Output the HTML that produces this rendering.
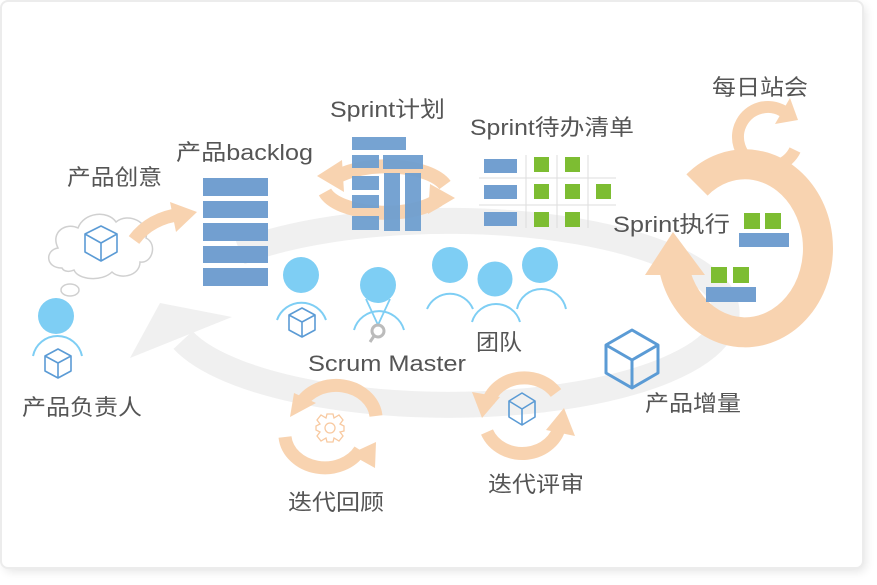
<!DOCTYPE html>
<html><head><meta charset="utf-8"><style>
html,body{margin:0;padding:0;background:#fff;width:877px;height:585px;overflow:hidden}
.card{position:absolute;left:2px;top:2px;width:860px;height:565px;background:#fff;border-radius:6px;box-shadow:0 0 0 2px #ececec,3px 4px 10px rgba(0,0,0,0.12)}
svg{position:absolute;left:0;top:0}
text{font-family:"Liberation Sans","Noto Sans CJK SC",sans-serif;font-size:22px;fill:#555}
</style></head><body>
<div class="card"></div>
<svg width="877" height="585" viewBox="0 0 877 585">
<!-- gray ring -->
<path d="M 240 252 A 278 92 0 1 1 183 340" fill="none" stroke="#f0f0f0" stroke-width="26"/>
<polygon points="130,358 160,303 232,317" fill="#f0f0f0"/>

<!-- cloud -->
<g fill="#fff" stroke="#d0d0d0" stroke-width="1.5">
<path d="M62 268 C45 268 45 250 58 248 C50 232 66 222 78 228 C84 212 108 210 116 222 C128 212 150 222 146 238 C158 244 152 264 140 262 C140 276 120 280 112 272 C102 282 78 280 74 270 C70 272 64 272 62 268 Z"/>
<ellipse cx="70" cy="290" rx="9" ry="6"/>
</g>
<g fill="none" stroke="#5b9bd5" stroke-width="1.6" stroke-linejoin="round">
<path d="M101 226 L117 234 L117 252 L101 261 L85 252 L85 234 Z M85 234 L101 243 L117 234 M101 243 L101 261"/>
</g>
<path d="M134 240 Q150 218 182 214" fill="none" stroke="#f8d3b0" stroke-width="13"/>
<polygon points="170,202 197,212 176,232" fill="#f8d3b0"/>

<!-- product owner -->
<circle cx="56" cy="316" r="18" fill="#7ecef4"/>
<path d="M33 356 A 25 25 0 0 1 82 356" fill="none" stroke="#7ecef4" stroke-width="2"/>
<g fill="none" stroke="#5b9bd5" stroke-width="1.6" stroke-linejoin="round">
<path d="M58 349 L71 356 L71 371 L58 378 L45 371 L45 356 Z M45 356 L58 363 L71 356 M58 363 L58 378"/>
</g>

<!-- backlog -->
<g fill="#729fd0">
<rect x="203" y="178" width="65" height="18"/>
<rect x="203" y="201" width="65" height="17"/>
<rect x="203" y="223" width="65" height="18"/>
<rect x="203" y="246" width="65" height="17"/>
<rect x="203" y="268" width="65" height="18"/>
</g>

<!-- sprint plan circular arrows -->
<path d="M 445 185 A 62 27 0 0 0 335 178" fill="none" stroke="#f8d3b0" stroke-width="14"/>
<polygon points="317,176 342,160 344,192" fill="#f8d3b0"/>
<path d="M 325 192 A 62 27 0 0 0 438 200" fill="none" stroke="#f8d3b0" stroke-width="14"/>
<polygon points="455,198 430,184 428,214" fill="#f8d3b0"/>
<g fill="#6f9fd0" opacity="0.95">
<rect x="352" y="137" width="54" height="13"/>
<rect x="352" y="155" width="27" height="13"/>
<rect x="383" y="155" width="40" height="14"/>
<rect x="352" y="176" width="27" height="14"/>
<rect x="352" y="195" width="27" height="13"/>
<rect x="352" y="216" width="27" height="14"/>
<rect x="384" y="173" width="16" height="58"/>
<rect x="405" y="173" width="16" height="58"/>
</g>

<!-- sprint backlog table -->
<g stroke="#ddd" stroke-width="1">
<line x1="526" y1="155" x2="526" y2="228"/><line x1="557" y1="155" x2="557" y2="228"/><line x1="588" y1="155" x2="588" y2="228"/>
<line x1="479" y1="178" x2="616" y2="178"/><line x1="479" y1="205" x2="616" y2="205"/>
</g>
<g fill="#729fd0"><rect x="484" y="159" width="33" height="14"/><rect x="484" y="185" width="33" height="14"/><rect x="484" y="212" width="33" height="14"/></g>
<g fill="#7dbd32">
<rect x="534" y="157" width="15" height="15"/><rect x="565" y="157" width="15" height="15"/>
<rect x="534" y="184" width="15" height="15"/><rect x="565" y="184" width="15" height="15"/><rect x="596" y="184" width="15" height="15"/>
<rect x="534" y="212" width="15" height="15"/><rect x="565" y="212" width="15" height="15"/>
</g>

<!-- sprint execution loop -->
<path d="M 697 185 A 73 84 0 1 1 674 268" fill="none" stroke="#f8d3b0" stroke-width="30"/>
<polygon points="673,232 645,275 705,275" fill="#f8d3b0"/>
<!-- daily standup loop -->
<path d="M 795 150 A 30 30 0 1 1 783 111" fill="none" stroke="#f8d3b0" stroke-width="12"/>
<polygon points="790,98 775,124 798,120" fill="#f8d3b0"/>
<g fill="#7dbd32"><rect x="744" y="213" width="16" height="16"/><rect x="765" y="213" width="16" height="16"/>
<rect x="711" y="267" width="16" height="16"/><rect x="733" y="267" width="16" height="16"/></g>
<g fill="#729fd0"><rect x="739" y="233" width="50" height="14"/><rect x="706" y="287" width="50" height="15"/></g>

<!-- team member -->
<circle cx="301" cy="275" r="18" fill="#7ecef4"/>
<path d="M277 320 A 26 26 0 0 1 326 320" fill="none" stroke="#7ecef4" stroke-width="2"/>
<g fill="none" stroke="#5b9bd5" stroke-width="1.6" stroke-linejoin="round">
<path d="M302 308 L315 315 L315 330 L302 337 L289 330 L289 315 Z M289 315 L302 322 L315 315 M302 322 L302 337"/>
</g>
<!-- scrum master -->
<circle cx="378" cy="285" r="18" fill="#7ecef4"/>
<path d="M354 330 A 26 26 0 0 1 404 330" fill="none" stroke="#7ecef4" stroke-width="2"/>
<path d="M366 299 L378 325 L390 299" fill="none" stroke="#7ecef4" stroke-width="1.8"/>
<circle cx="378" cy="331" r="6" fill="none" stroke="#bbb" stroke-width="3"/>
<line x1="374" y1="336" x2="370" y2="342" stroke="#bbb" stroke-width="3"/>
<!-- team -->
<circle cx="450" cy="265" r="18" fill="#7ecef4"/>
<circle cx="540" cy="265" r="18" fill="#7ecef4"/>
<path d="M427 309 A 25 25 0 0 1 473 309" fill="none" stroke="#7ecef4" stroke-width="2"/>
<path d="M517 309 A 25 25 0 0 1 566 309" fill="none" stroke="#7ecef4" stroke-width="2"/>
<circle cx="495" cy="279" r="18" fill="#7ecef4" stroke="#fff" stroke-width="1"/>
<path d="M472 322 A 25 25 0 0 1 520 322" fill="none" stroke="#7ecef4" stroke-width="2"/>

<!-- product increment cube -->
<g fill="none" stroke="#5b9bd5" stroke-width="3" stroke-linejoin="round">
<path d="M632 330 L658 345 L658 373 L632 388 L606 373 L606 345 Z M606 345 L632 360 L658 345 M632 360 L632 388"/>
</g>

<!-- review arrows -->
<path d="M 556 393 A 38 34 0 0 0 488 402" fill="none" stroke="#f8d3b0" stroke-width="13"/>
<polygon points="472,392 500,397 482,418" fill="#f8d3b0"/>
<path d="M 487 432 A 38 34 0 0 0 560 424" fill="none" stroke="#f8d3b0" stroke-width="13"/>
<polygon points="575,436 546,430 564,408" fill="#f8d3b0"/>
<g fill="none" stroke="#5b9bd5" stroke-width="1.6" stroke-linejoin="round">
<path d="M522 393 L535 401 L535 417 L522 425 L509 417 L509 401 Z M509 401 L522 409 L535 401 M522 409 L522 425"/>
</g>

<!-- retro arrows -->
<path d="M 376 416 A 40 34 0 0 0 300 405" fill="none" stroke="#f8d3b0" stroke-width="13"/>
<polygon points="290,417 294,393 316,403" fill="#f8d3b0"/>
<path d="M 285 437 A 40 34 0 0 0 360 450" fill="none" stroke="#f8d3b0" stroke-width="13"/>
<polygon points="376,442 375,468 350,454" fill="#f8d3b0"/>
<g fill="none" stroke="#f8c9a0" stroke-width="1.3">
<circle cx="330" cy="428" r="5"/>
<path d="M327 414 L333 414 L334 418 L339 415 L343 420 L340 424 L344 426 L344 431 L340 432 L343 436 L339 441 L334 438 L333 442 L327 442 L326 438 L321 441 L317 436 L320 432 L316 430 L316 426 L320 424 L317 420 L321 415 L326 418 Z"/>
</g>

<!-- labels -->
<text x="712" y="95" textLength="96" lengthAdjust="spacingAndGlyphs">每日站会</text>
<text x="330" y="117" textLength="115" lengthAdjust="spacingAndGlyphs">Sprint计划</text>
<text x="470" y="135" textLength="164" lengthAdjust="spacingAndGlyphs">Sprint待办清单</text>
<text x="176" y="160" textLength="137" lengthAdjust="spacingAndGlyphs">产品backlog</text>
<text x="67" y="185" textLength="95" lengthAdjust="spacingAndGlyphs">产品创意</text>
<text x="613" y="232" textLength="117" lengthAdjust="spacingAndGlyphs">Sprint执行</text>
<text x="476" y="350" textLength="46" lengthAdjust="spacingAndGlyphs">团队</text>
<text x="308" y="371" textLength="158" lengthAdjust="spacingAndGlyphs">Scrum Master</text>
<text x="645" y="411" textLength="96" lengthAdjust="spacingAndGlyphs">产品增量</text>
<text x="22" y="415" textLength="120" lengthAdjust="spacingAndGlyphs">产品负责人</text>
<text x="488" y="492" textLength="96" lengthAdjust="spacingAndGlyphs">迭代评审</text>
<text x="288" y="510" textLength="96" lengthAdjust="spacingAndGlyphs">迭代回顾</text>
</svg>
</body></html>
